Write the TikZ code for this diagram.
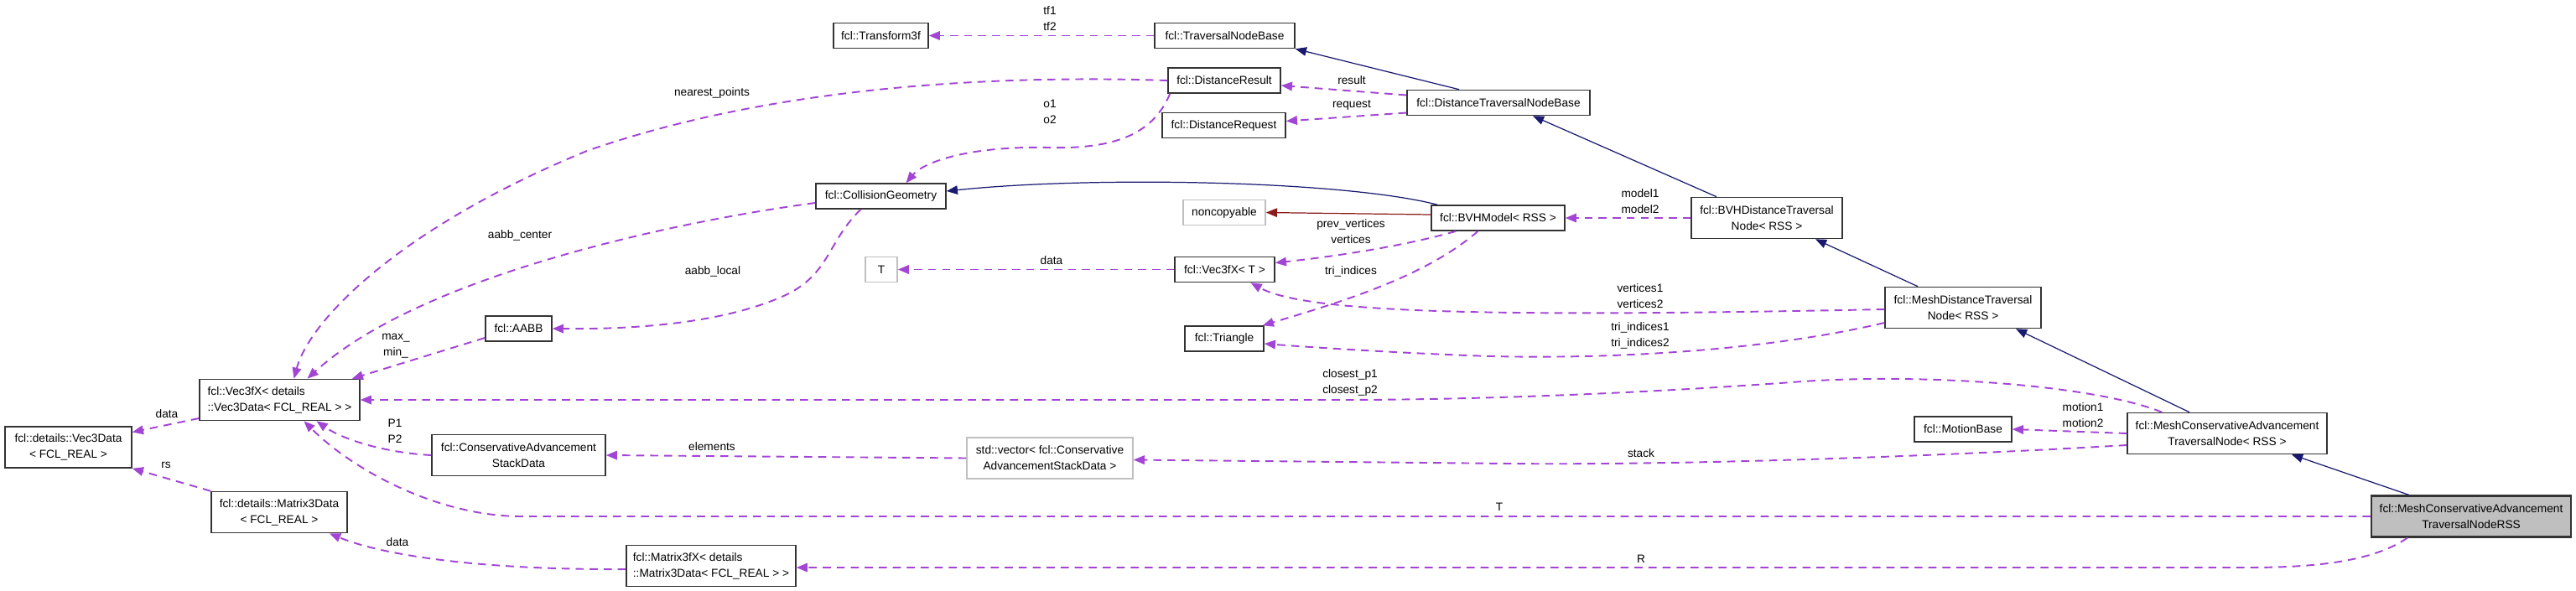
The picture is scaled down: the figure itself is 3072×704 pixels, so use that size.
\documentclass[tikz,border=0pt]{standalone}
\usepackage{fontspec}
\setmainfont{Liberation Sans}
\usetikzlibrary{calc,arrows.meta}
\definecolor{usecol}{HTML}{A244D4}
\definecolor{inhcol}{HTML}{191970}
\definecolor{privcol}{HTML}{8B1A1A}
\definecolor{nodoc}{HTML}{BFBFBF}
\definecolor{frame}{HTML}{333333}
\newcommand{\dxfont}{\fontsize{7.8}{10.8}\selectfont}
\tikzset{
  cls/.style={draw=frame, line width=0.9pt, fill=white, inner sep=0pt, font=\dxfont, align=center, minimum height=0.6cm},
  cls2/.style={cls, minimum height=0.98cm},
  ext/.style={cls, draw=nodoc},
  ext2/.style={cls2, draw=nodoc},
  mainnode/.style={cls2, fill=nodoc, line width=1.2pt},
  lbl/.style={font=\dxfont, align=center, inner sep=0pt},
  use/.style={-{Triangle[length=7.5pt,width=6pt,fill=usecol]}, draw=usecol, line width=1.1pt, dash pattern=on 5.5pt off 4pt},
  inh/.style={-{Triangle[length=7.5pt,width=6pt,fill=inhcol]}, draw=inhcol, line width=0.7pt},
  priv/.style={-{Triangle[length=7.5pt,width=6pt,fill=privcol]}, draw=privcol, line width=0.7pt}
}
\begin{document}
\begin{tikzpicture}[x=0.02cm, y=-0.02cm]
            \useasboundingbox (0,0) rectangle (3072,704);

            \node[cls2, minimum width=3.02cm] (vecdata) at (81.5,533.5) {fcl::details::Vec3Data\\< FCL\_REAL >};
            \node[cls2, align=left, minimum width=3.82cm] (vecd) at (333.5,477) {fcl::Vec3fX< details\\::Vec3Data< FCL\_REAL > >};
            \node[cls, minimum width=1.58cm] (aabb) at (618.5,392) {fcl::AABB};
            \node[cls2, minimum width=4.14cm] (stackdata) at (618.5,543) {fcl::ConservativeAdvancement\\StackData};
            \node[cls2, minimum width=3.24cm] (matdata) at (333,611) {fcl::details::Matrix3Data\\< FCL\_REAL >};
            \node[cls2, align=left, minimum width=4.04cm] (matd) at (848,675) {fcl::Matrix3fX< details\\::Matrix3Data< FCL\_REAL > >};
            \node[cls, minimum width=2.26cm] (tf) at (1050.5,42.5) {fcl::Transform3f};
            \node[cls, minimum width=3.34cm] (tnb) at (1460.5,42.5) {fcl::TraversalNodeBase};
            \node[cls, minimum width=2.68cm] (dres) at (1460,96) {fcl::DistanceResult};
            \node[cls, minimum width=2.94cm] (dreq) at (1459.5,149.5) {fcl::DistanceRequest};
            \node[cls, minimum width=4.36cm] (dtnb) at (1787,122.5) {fcl::DistanceTraversalNodeBase};
            \node[cls, minimum width=3.1cm] (cgeom) at (1050.5,234) {fcl::CollisionGeometry};
            \node[ext, minimum width=1.96cm] (noncp) at (1460,253.5) {noncopyable};
            \node[cls, minimum width=3.18cm] (bvh) at (1786.5,260) {fcl::BVHModel< RSS >};
            \node[ext, minimum width=0.76cm] (tt) at (1051,321.5) {T};
            \node[cls, minimum width=2.38cm] (vect) at (1460.5,321.5) {fcl::Vec3fX< T >};
            \node[cls, minimum width=1.88cm] (tri) at (1460,404) {fcl::Triangle};
            \node[ext2, minimum width=3.96cm] (stackvec) at (1252,546.5) {std::vector< fcl::Conservative\\AdvancementStackData >};
            \node[cls2, minimum width=3.6cm] (bvhdtn) at (2107,260) {fcl::BVHDistanceTraversal\\Node< RSS >};
            \node[cls2, minimum width=3.72cm] (meshdtn) at (2341,367) {fcl::MeshDistanceTraversal\\Node< RSS >};
            \node[cls, minimum width=2.32cm] (motion) at (2341,512) {fcl::MotionBase};
            \node[cls2, minimum width=4.76cm] (mcatn) at (2656,517) {fcl::MeshConservativeAdvancement\\TraversalNode< RSS >};
            \node[mainnode, minimum width=4.76cm] (mcatnrss) at (2947,616) {fcl::MeshConservativeAdvancement\\TraversalNodeRSS};

            \draw[use] (tnb.west) -- (tf.east);
            \draw[inh] ($(dtnb.north)+(-47,0)$) -- (tnb.south east);
            \draw[use] ($(dtnb.west)+(0,-9)$) -- ($(dres.east)+(0,6)$);
            \draw[use] ($(dtnb.west)+(0,12)$) -- ($(dreq.east)+(0,-5)$);
            \draw[use] ($(dres.south west)+(3,0)$) .. controls (1375,160) and (1330,178) .. (1250,176)
                .. controls (1150,174) and (1100,195) .. ($(cgeom.north)+(30,0)$);
            \draw[use] (dres.west) .. controls (1150,88) and (900,110) .. (700,180)
                .. controls (480,270) and (370,380) .. ($(vecd.north)+(17,0)$);
            \draw[use] ($(cgeom.west)+(0,8)$) .. controls (800,265) and (500,330) .. ($(vecd.north)+(33,0)$);
            \draw[use] ($(cgeom.south)+(-24,0)$) .. controls (985,290) and (990,330) .. (930,355)
                .. controls (860,385) and (760,393) .. (aabb.east);
            \draw[use] ($(aabb.west)+(0,11)$) -- ($(vecd.north east)+(-10,0)$);
            \draw[inh] ($(bvh.north west)+(8,0)$) .. controls (1600,215) and (1300,210) .. ($(cgeom.east)+(0,-6)$);
            \draw[priv] ($(bvh.west)+(0,-4)$) -- (noncp.east);
            \draw[use] ($(bvh.south west)+(30,0)$) .. controls (1680,292) and (1600,305) .. ($(vect.east)+(0,-8)$);
            \draw[use] ($(bvh.south)+(-24,0)$) .. controls (1700,330) and (1600,360) .. ($(tri.north east)+(-2,0)$);
            \draw[use] (vect.west) -- (tt.east);
            \draw[inh] ($(bvhdtn.north)+(-60,0)$) -- ($(dtnb.south)+(41,0)$);
            \draw[use] (bvhdtn.west) -- (bvh.east);
            \draw[inh] ($(meshdtn.north)+(-54,0)$) -- ($(bvhdtn.south)+(58,0)$);
            \draw[use] ($(meshdtn.west)+(0,2)$) .. controls (1800,378) and (1560,375) .. ($(vect.south)+(31,0)$);
            \draw[use] ($(meshdtn.west)+(0,18)$) .. controls (2100,420) and (1900,430) .. (1750,424)
                .. controls (1650,420) and (1560,414) .. ($(tri.east)+(0,6)$);
            \draw[inh] ($(mcatn.north)+(-45,0)$) -- ($(meshdtn.south)+(63,0)$);
            \draw[use] ($(mcatn.north west)+(42,0)$) .. controls (2500,460) and (2300,445) .. (2150,455)
                .. controls (1950,470) and (1750,477) .. (1600,477) -- (vecd.east);
            \draw[use] (mcatn.west) -- (motion.east);
            \draw[use] ($(mcatn.west)+(0,14)$) .. controls (2300,545) and (2000,555) .. (1800,553) -- ($(stackvec.east)+(0,2)$);
            \draw[use] (stackvec.west) -- (stackdata.east);
            \draw[use] (stackdata.west) .. controls (460,540) and (410,525) .. ($(vecd.south)+(44,0)$);
            \draw[inh] ($(mcatnrss.north)+(-74,0)$) -- ($(mcatn.south)+(77,0)$);
            \draw[use] (mcatnrss.west) -- (620,616) .. controls (520,615) and (420,560) .. ($(vecd.south)+(29,0)$);
            \draw[use] ($(mcatnrss.south)+(-76,0)$) .. controls (2830,670) and (2760,677) .. (2680,677) -- ($(matd.east)+(0,2)$);
            \draw[use] ($(matd.west)+(0,4)$) .. controls (560,680) and (450,660) .. ($(matdata.south)+(60,0)$);
            \draw[use] (matdata.north west) -- (vecdata.south east);
            \draw[use] ($(vecd.west)+(0,22)$) -- ($(vecdata.east)+(0,-18)$);

            \node[lbl] (ltf) at (1252,22.5) {tf1\\tf2};
            \node[lbl] (lnear) at (849,111) {nearest\_points};
            \node[lbl] (lo) at (1252,133.5) {o1\\o2};
            \node[lbl] (lres) at (1612,96) {result};
            \node[lbl] (lreq) at (1612,125) {request};
            \node[lbl] (lcenter) at (620,281) {aabb\_center};
            \node[lbl] (llocal) at (850,324) {aabb\_local};
            \node[lbl] (lminmax) at (472,413) {max\_\\min\_};
            \node[lbl] (lvert) at (1611,276) {prev\_vertices\\vertices};
            \node[lbl] (ldatat) at (1254,311) {data};
            \node[lbl] (ltri) at (1611,324) {tri\_indices};
            \node[lbl] (lmodel) at (1956,240) {model1\\model2};
            \node[lbl] (lvert12) at (1956,353.5) {vertices1\\vertices2};
            \node[lbl] (ltri12) at (1956,400) {tri\_indices1\\tri\_indices2};
            \node[lbl] (lclosest) at (1610,456) {closest\_p1\\closest\_p2};
            \node[lbl] (lmotion) at (2484,495.5) {motion1\\motion2};
            \node[lbl] (lstack) at (1957,541) {stack};
            \node[lbl] (lelem) at (849,533) {elements};
            \node[lbl] (lp) at (471,514) {P1\\P2};
            \node[lbl] (lt) at (1788,605) {T};
            \node[lbl] (lr) at (1957,667) {R};
            \node[lbl] (ldatam) at (474,647) {data};
            \node[lbl] (lrs) at (198,555) {rs};
            \node[lbl] (ldatav) at (199,494) {data};
          \end{tikzpicture}
\end{document}
